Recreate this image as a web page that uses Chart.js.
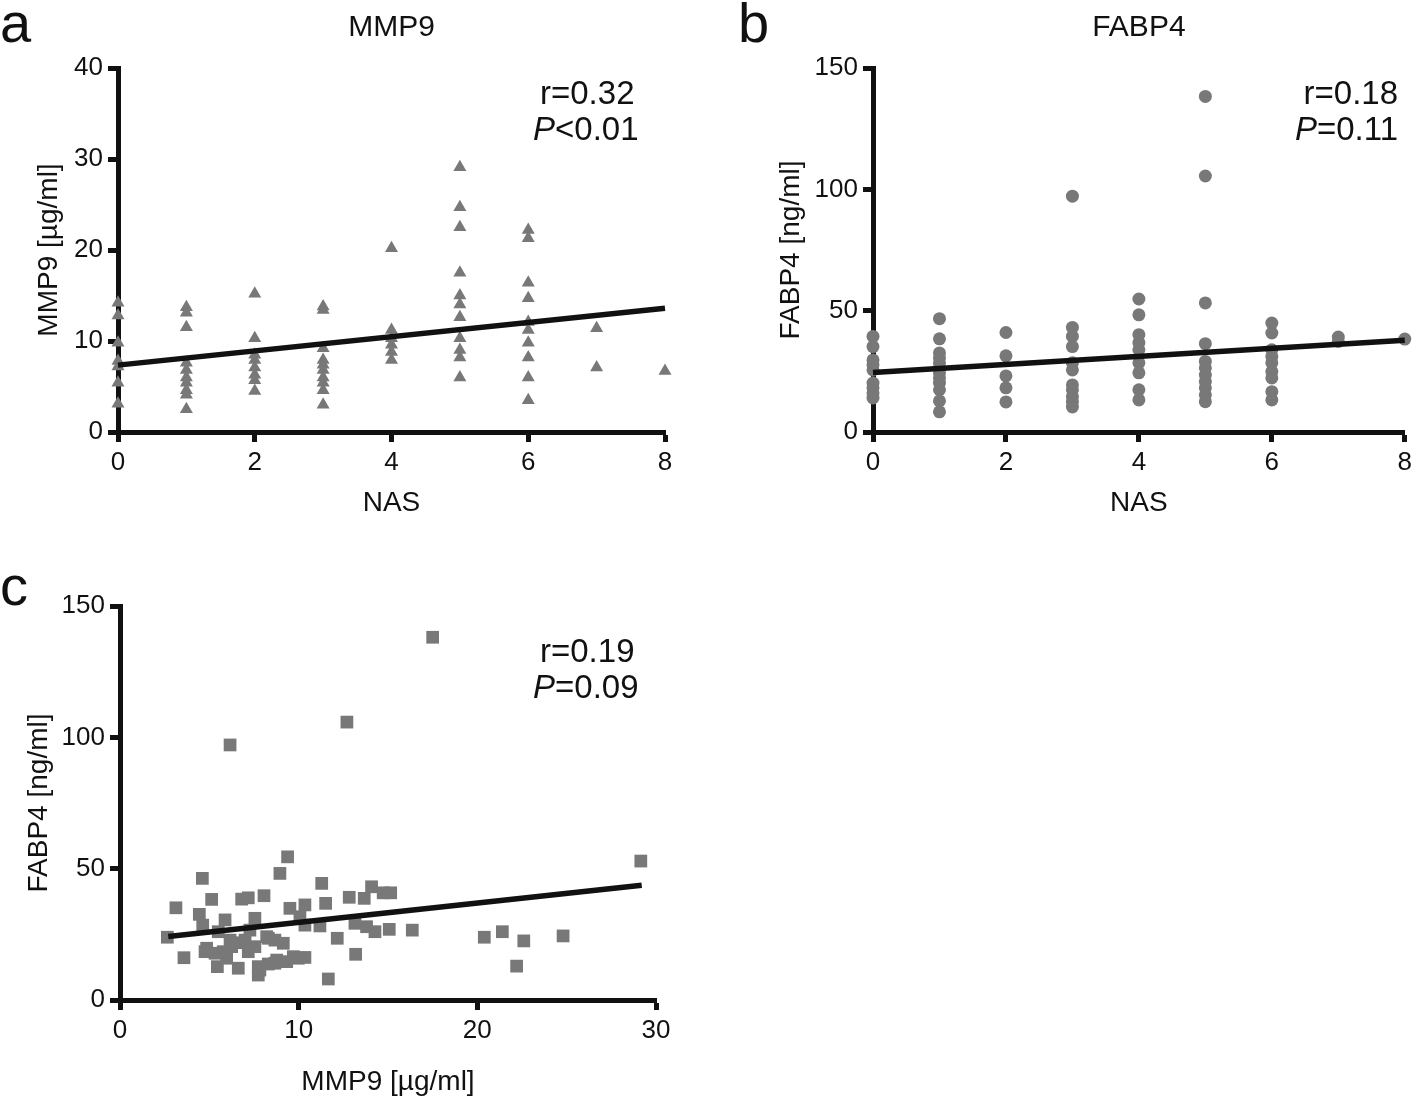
<!DOCTYPE html>
<html>
<head>
<meta charset="utf-8">
<script src="https://cdn.jsdelivr.net/npm/chart.js@4.4.1/dist/chart.umd.min.js"></script>
<style>
  body { margin: 0; background: #fff; }
  #wrap { position: relative; width: 1417px; height: 1100px; }
  canvas { position: absolute; }
</style>
</head>
<body>
<div id="wrap">
  <canvas id="chartA" width="700" height="540" style="left:0;top:0"></canvas>
  <canvas id="chartB" width="717" height="540" style="left:700px;top:0"></canvas>
  <canvas id="chartC" width="700" height="550" style="left:0;top:550px"></canvas>
</div>
<script>
// panel a: NAS vs MMP9
const nasA = [0,0,0,0,0,0,0, 1,1,1,1,1,1,1,1,1,1, 2,2,2,2,2,2,2,2, 3,3,3,3,3,3,3,3,3,3, 4,4,4,4,4,4, 5,5,5,5,5,5,5,5,5,5,5, 6,6,6,6,6,6,6,6,6,6, 7,7, 8];
const mmp9A = [14.2,12.8,9.8,7.8,7.2,5.4,3.1,
  13.7,13.1,11.5,7.6,6.8,6.0,5.4,4.6,4.1,2.5,
  15.2,10.3,8.5,7.9,7.1,6.3,5.7,4.5,
  13.8,13.4,9.2,7.9,7.4,6.8,6.0,5.4,4.6,3.0,
  20.2,11.2,10.3,9.6,8.8,7.9,
  29.1,24.7,22.5,17.5,15.0,14.0,12.6,10.3,9.0,8.2,6.0,
  22.2,21.3,16.4,14.7,12.1,11.2,9.8,8.2,6.0,3.5,
  11.4,7.1,
  6.7];
const fitA = [[0, 7.35], [8, 13.6]];

// panel b: NAS vs FABP4
const nasB = [0,0,0,0,0,0,0,0,0, 1,1,1,1,1,1,1,1,1,1,1,1, 2,2,2,2,2, 3,3,3,3,3,3,3,3,3,3,3, 4,4,4,4,4,4,4,4,4, 5,5,5,5,5,5,5,5,5,5,5, 6,6,6,6,6,6,6,6,6, 7,7, 8];
const fabp4B = [39.4,35.2,29.7,27.7,25.6,20.2,18.2,16.1,14.0,
  46.7,38.4,32.6,30.6,28.5,26.4,24.4,22.3,20.2,17.4,12.8,8.3,
  41.0,31.4,23.1,18.2,12.4,
  97.2,43.1,39.4,35.2,28.5,25.6,19.4,17.4,14.6,12.5,10.3,
  54.8,48.3,40.1,36.8,33.9,28.5,24.4,17.4,13.2,
  138.3,105.5,53.2,36.4,29.1,26.4,23.5,20.8,18.2,15.3,12.5,
  44.9,40.8,33.9,31.1,28.5,24.9,22.3,16.6,13.2,
  39.1,37.3,
  38.3];
const fitB = [[0, 24.5], [8, 37.8]];

// panel c: MMP9 vs FABP4
const mmp9C = [2.65,3.13,3.58,4.61,4.44,4.63,5.13,4.76,5.45,5.50,5.88,6.16,6.62,6.81,7.18,7.55,7.27,8.06,8.95,9.38,
  7.83,8.30,9.14,8.77,9.51,10.35,10.07,10.35,9.98,11.29,11.51,11.19,12.16,11.66,12.83,13.67,14.08,14.73,15.15,13.15,
  13.8,14.27,15.07,13.19,4.85,5.32,5.78,6.25,6.53,7.0,7.18,7.55,8.21,8.67,7.74,8.30,8.67,9.33,9.70,10.35,
  7.74,5.97,16.36,20.39,21.4,22.6,22.2,24.8,29.15,17.5,12.7,6.16];
const fabp4C = [23.9,35.1,16.1,46.3,32.6,28.5,38.3,18.4,12.7,26.0,30.5,22.8,12.1,38.4,38.9,31.1,26.6,39.7,48.2,54.5,
  11.4,23.5,21.6,15.2,34.9,36.2,31.7,28.5,15.9,44.4,36.8,28.2,23.5,8.0,39.1,38.7,43.1,40.8,40.8,29.2,
  27.9,26.0,26.9,17.4,19.7,17.8,18.4,20.3,21.8,22.8,18.4,20.3,24.1,22.8,12.7,13.7,14.0,14.6,16.5,16.2,
  9.5,15.9,26.6,23.9,26.0,22.5,12.9,24.4,52.9,138.1,105.8,97.1];
const fitC = [[2.7, 24.2], [29.2, 43.7]];

const FONT = '"Liberation Sans", Arial, Helvetica, sans-serif';
const INK = '#111111';
const GREY = '#787878';

Chart.defaults.font.family = FONT;
Chart.defaults.color = INK;

const toPts = (xs, ys) => xs.map((x, i) => ({ x: x, y: ys[i] }));

// panel letter, panel title and the r / P text
const annot = {
  id: 'annot',
  afterDraw(chart, args, o) {
    const ctx = chart.ctx, ca = chart.chartArea;
    ctx.save();
    ctx.fillStyle = INK;
    ctx.textBaseline = 'alphabetic';
    ctx.font = '56px ' + FONT;
    ctx.textAlign = 'left';
    ctx.fillText(o.letter, o.letterX, o.letterY);
    if (o.title) {
      ctx.font = '30px ' + FONT;
      ctx.textAlign = 'center';
      ctx.fillText(o.title, (ca.left + ca.right) / 2, o.titleY);
    }
    ctx.font = '33px ' + FONT;
    const rW = ctx.measureText(o.r).width;
    const restW = ctx.measureText(o.p).width;
    ctx.font = 'italic 33px ' + FONT;
    const pW = ctx.measureText('P').width;
    let rx = o.statX, px = o.statX - 7;
    if (o.right) { rx = o.statX - rW; px = o.statX - restW - pW; }
    ctx.textAlign = 'left';
    ctx.fillText('P', px, o.statY + 36);
    ctx.font = '33px ' + FONT;
    ctx.fillText(o.p, px + pW, o.statY + 36);
    ctx.fillText(o.r, rx, o.statY);
    ctx.restore();
  }
};

function axis(min, max, step, title, fit) {
  return {
    type: 'linear', min: min, max: max,
    ticks: { stepSize: step, font: { size: 26 }, color: INK, padding: 5 },
    grid: { display: true, drawOnChartArea: false, drawTicks: true, tickLength: 10, tickWidth: 5, tickColor: INK },
    border: { display: true, width: 5, color: INK },
    title: { display: true, text: title, font: { size: 28 }, color: INK, padding: 0 },
    afterFit: fit
  };
}

function makeChart(id, pts, marker, radius, fit, xs, ys, pad, annotOpts) {
  return new Chart(document.getElementById(id), {
    type: 'scatter',
    data: {
      datasets: [
        { type: 'line', data: fit.map(p => ({ x: p[0], y: p[1] })), borderColor: INK, borderWidth: 5.5,
          pointRadius: 0, fill: false, clip: false, order: 0 },
        { data: pts, pointStyle: marker, pointRadius: radius, backgroundColor: GREY,
          borderColor: GREY, borderWidth: 0, clip: false, order: 1 }
      ]
    },
    options: {
      responsive: false, animation: false,
      layout: { padding: pad },
      plugins: { legend: { display: false }, tooltip: { enabled: false }, annot: annotOpts },
      scales: { x: xs, y: ys }
    },
    plugins: [annot]
  });
}

makeChart('chartA', toPts(nasA, mmp9A), 'triangle', 7.5, fitA,
  axis(0, 8, 2, 'NAS', s => { s.height = 88; }),
  axis(0, 40, 10, 'MMP9 [µg/ml]', s => { s.width = 86; }),
  { left: 32, top: 68, right: 35, bottom: 20 },
  { letter: 'a', letterX: 0, letterY: 42, title: 'MMP9', titleY: 36, r: 'r=0.32', p: '<0.01', statX: 540, statY: 104 });

makeChart('chartB', toPts(nasB, fabp4B), 'circle', 6.5, fitB,
  axis(0, 8, 2, 'NAS', s => { s.height = 88; }),
  axis(0, 150, 50, 'FABP4 [ng/ml]', s => { s.width = 99; }),
  { left: 74, top: 68, right: 0, bottom: 20 },
  { letter: 'b', letterX: 38, letterY: 42, title: 'FABP4', titleY: 36, r: 'r=0.18', p: '=0.11', statX: 698, statY: 104, right: true });

makeChart('chartC', toPts(mmp9C, fabp4C), 'rect', 9, fitC,
  axis(0, 30, 10, 'MMP9 [µg/ml]', s => { s.height = 99; }),
  axis(0, 150, 50, 'FABP4 [ng/ml]', s => { s.width = 98; }),
  { left: 22, top: 56, right: 44, bottom: 1 },
  { letter: 'c', letterX: 0, letterY: 55, title: '', titleY: 0, r: 'r=0.19', p: '=0.09', statX: 540, statY: 112 });
</script>
</body>
</html>
